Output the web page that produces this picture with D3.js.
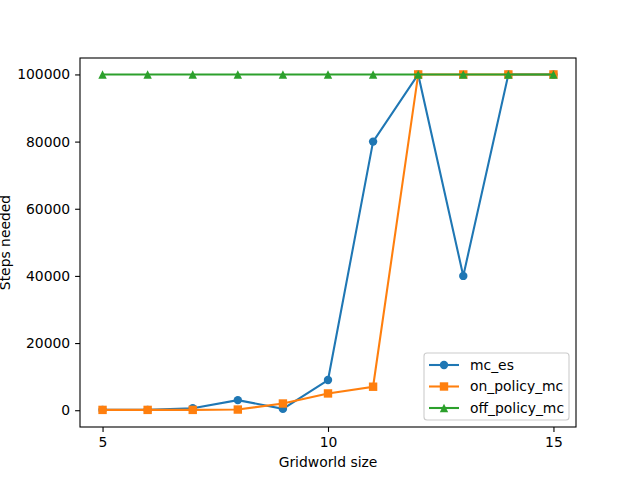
<!DOCTYPE html>
<html><head><meta charset="utf-8">
<script src="https://cdn.jsdelivr.net/npm/d3@7"></script>
<style>body{margin:0;background:#fff}svg{display:block}text{font-family:"DejaVu Sans",sans-serif}</style>
</head><body>
<script>
const sizes = [5,6,7,8,9,10,11,12,13,14,15];
const mcEs = [100,100,600,3000,400,9000,80000,100000,40000,100000,100000];
const onPolicyMc = [100,100,100,200,2000,5000,7000,100000,100000,100000,100000];
const offPolicyMc = [100000,100000,100000,100000,100000,100000,100000,100000,100000,100000,100000];
const seriesNames = ["mc_es","on_policy_mc","off_policy_mc"];
const xTicks = [5,10,15];
const yTicks = [0,20000,40000,60000,80000,100000];

const W=640,H=480, L=80, R=576, T=58, B=427, FS=13.9;
const svg=d3.select("body").append("svg").attr("width",W).attr("height",H);
const x=d3.scaleLinear().domain([4.5,15.5]).range([L,R]);
const y=d3.scaleLinear().domain([-4995,104895]).range([B,T]);

const series=[
 {name:seriesNames[0],vals:mcEs,color:"#1f77b4",marker:"circle"},
 {name:seriesNames[1],vals:onPolicyMc,color:"#ff7f0e",marker:"square"},
 {name:seriesNames[2],vals:offPolicyMc,color:"#2ca02c",marker:"triangle"}
];
function drawMarker(g,type,cx,cy,color){
  if(type==="circle") g.append("circle").attr("cx",cx).attr("cy",cy).attr("r",4.2).attr("fill",color);
  else if(type==="square") g.append("rect").attr("x",cx-4.2).attr("y",cy-4.2).attr("width",8.4).attr("height",8.4).attr("fill",color);
  else g.append("path").attr("d",`M${cx},${cy-4.2}L${cx+4.2},${cy+4.2}L${cx-4.2},${cy+4.2}Z`).attr("fill",color);
}
const line=d3.line().x((d,i)=>x(sizes[i])).y(d=>y(d));
series.forEach(s=>{
  const g=svg.append("g");
  g.append("path").attr("d",line(s.vals)).attr("fill","none").attr("stroke",s.color).attr("stroke-width",2.08);
  s.vals.forEach((v,i)=>drawMarker(g,s.marker,x(sizes[i]),y(v),s.color));
});
// axes
const xa=svg.append("g").attr("transform",`translate(0,${B})`).call(d3.axisBottom(x).tickValues(xTicks).tickSize(4.9).tickPadding(4.9));
const ya=svg.append("g").attr("transform",`translate(${L},0)`).call(d3.axisLeft(y).tickValues(yTicks).tickSize(4.9).tickPadding(4.9).tickFormat(d3.format("d")));
[xa,ya].forEach(a=>{a.select(".domain").remove();a.selectAll("text").attr("font-size",FS).attr("fill","#000").attr("font-family","DejaVu Sans");a.selectAll("line").attr("stroke","#000").attr("stroke-width",1.1);});
svg.append("rect").attr("x",L).attr("y",T).attr("width",R-L).attr("height",B-T).attr("fill","none").attr("stroke","#000").attr("stroke-width",1.1);
svg.append("text").attr("x",(L+R)/2).attr("y",467).attr("text-anchor","middle").attr("font-size",FS).text("Gridworld size");
svg.append("text").attr("transform",`translate(${0},${(T+B)/2}) rotate(-90)`).attr("text-anchor","middle").attr("dy","0.75em").attr("font-size",FS).text("Steps needed");
// legend
const lg=svg.append("g");
lg.append("rect").attr("x",424).attr("y",353).attr("width",145).attr("height",67).attr("rx",3).attr("fill","#fff").attr("fill-opacity",0.8).attr("stroke","#ccc").attr("stroke-width",1.1);
series.forEach((s,i)=>{
  const cy=365+i*21.5;
  lg.append("line").attr("x1",429).attr("x2",459).attr("y1",cy).attr("y2",cy).attr("stroke",s.color).attr("stroke-width",2.08);
  drawMarker(lg,s.marker,444,cy,s.color);
  lg.append("text").attr("x",470).attr("y",cy).attr("dy","0.35em").attr("font-size",FS).text(s.name);
});
</script>
</body></html>
